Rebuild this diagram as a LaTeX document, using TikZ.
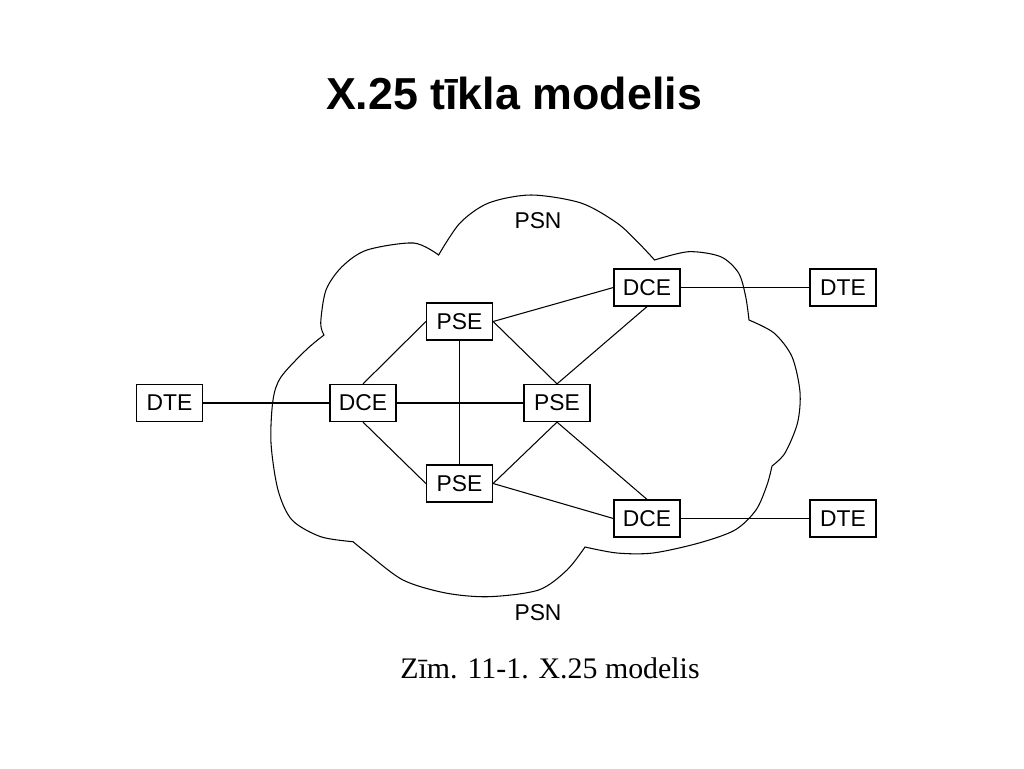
\documentclass[tikz,border=0pt]{standalone}
\usepackage{fontspec}
\setmainfont{Liberation Sans}
\newfontfamily\capfont{Liberation Serif}
\begin{document}
\begin{tikzpicture}[x=0.02cm, y=-0.02cm,
		box/.style={draw, line width=0.7pt, minimum width=1.32cm, minimum height=0.74cm, inner sep=0pt, font=\fontsize{13}{15}\selectfont},
		link/.style={line width=0.6pt}]
		\useasboundingbox (0,0) rectangle (1024,768);
		\node[font=\bfseries\fontsize{25.5}{30}\selectfont, anchor=base] (title) at (514,109.5) {X.25 tīkla modelis};
		\draw[line width=0.6pt] plot[smooth] coordinates {(438.6,255) (460,223) (488.6,203) (531,195) (581,203) (617,223) (638.6,243) (654.6,260)}
			-- plot[smooth] coordinates {(654.6,260) (688.6,251.7) (720.7,256.7) (738.6,273) (745.7,296.7) (749,320)}
			-- plot[smooth] coordinates {(749,320) (774,333) (792,356.7) (800,392) (797.5,423) (785,453) (772,466)}
			-- plot[smooth] coordinates {(772,466) (767,485) (756,510) (735,530) (699,543) (653,553) (617,553) (585,547)}
			-- plot[smooth] coordinates {(585,547) (567,570) (538.6,590) (488.6,596.7) (445.7,593) (403,580) (367,553) (353,541.7)}
			-- plot[smooth] coordinates {(353,541.7) (320.7,536.7) (292,520) (278,490) (271,443) (273,400) (281,377) (306,350) (324,335)}
			-- plot[smooth] coordinates {(324,335) (320.7,323) (326,290) (342,266.7) (367,250) (413.6,243) (438.6,255)} -- cycle;
		\node (psnT) at (538,221) {\fontsize{13}{15}\selectfont PSN};
		\node (psnB) at (538,613) {\fontsize{13}{15}\selectfont PSN};
		\node[box] (dteL) at (169.5,403) {DTE};
		\node[box] (dceL) at (363,403) {DCE};
		\node[box] (pseT) at (459.5,321.5) {PSE};
		\node[box] (pseM) at (557,403) {PSE};
		\node[box] (pseB) at (459.5,483.5) {PSE};
		\node[box] (dceT) at (647,287.5) {DCE};
		\node[box] (dceB) at (647,518.5) {DCE};
		\node[box] (dteT) at (843,287.5) {DTE};
		\node[box] (dteB) at (843,518.5) {DTE};
		\draw[link] (dteL) -- (dceL);
		\draw[link] (dceL) -- (pseM);
		\draw[link] (pseT) -- (pseB);
		\draw[link] (dceL.north) -- (pseT.west);
		\draw[link] (dceL.south) -- (pseB.west);
		\draw[link] (pseT.east) -- (pseM.north);
		\draw[link] (pseT.east) -- (dceT.west);
		\draw[link] (dceT.south) -- (pseM.north);
		\draw[link] (pseM.south) -- (pseB.east);
		\draw[link] (pseM.south) -- (dceB.north);
		\draw[link] (pseB.east) -- (dceB.west);
		\draw[link] (dceT) -- (dteT);
		\draw[link] (dceB) -- (dteB);
		\node[font=\capfont\fontsize{17}{20}\selectfont, anchor=base] (cap) at (550,678.3) {Zīm. 11-1. X.25 modelis};
	\end{tikzpicture}
\end{document}
